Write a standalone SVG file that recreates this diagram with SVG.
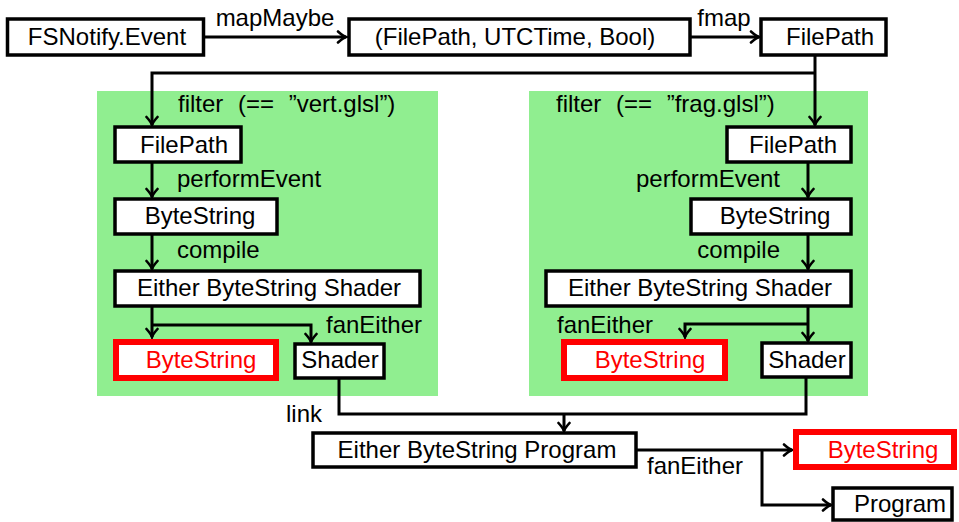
<svg xmlns="http://www.w3.org/2000/svg" width="959" height="522" viewBox="0 0 959 522">
<defs>
<marker id="arr" viewBox="-10 -7 12 14" refX="0" refY="0" markerWidth="12" markerHeight="14" markerUnits="userSpaceOnUse" orient="auto">
<path d="M-8,-5.5 Q-3,-1 0,0 Q-3,1 -8,5.5" fill="none" stroke="#000" stroke-width="2.6" stroke-linecap="round"/>
</marker>
<style>
text{font-family:"Liberation Sans",Arial,sans-serif;font-size:24px;fill:#000}
.c{text-anchor:middle}
.e{text-anchor:end}
.red{fill:#ff0000}
.flt{word-spacing:8px}
.box{fill:#fff;stroke:#000;stroke-width:3.5}
.rbox{fill:#fff;stroke:#ff0000;stroke-width:6}
.grp{fill:#90ee90}
.con{fill:none;stroke:#000;stroke-width:3;marker-end:url(#arr)}
.ln{fill:none;stroke:#000;stroke-width:3}
</style>
</defs>
<rect width="959" height="522" fill="#fff"/>
<g id="groups">
<rect class="grp" x="97" y="91" width="341" height="305"/>
<rect class="grp" x="529" y="91" width="339" height="305"/>
</g>
<g id="connectors">
<path class="con" d="M204,37 H346"/>
<path class="con" d="M691,37 H759"/>
<path class="con" d="M815,55 V125"/>
<path class="con" d="M815,73 H152 V125"/>
<path class="con" d="M152,162 V197"/>
<path class="con" d="M152,234 V269"/>
<path class="con" d="M152,306 V337"/>
<path class="con" d="M152,325 H311 V342"/>
<path class="con" d="M808,162 V197"/>
<path class="con" d="M808,234 V269"/>
<path class="con" d="M808,306 V341"/>
<path class="con" d="M808,324 H685 V337"/>
<path class="ln" d="M339,378 V414 H806 V377"/>
<path class="con" d="M564,414 V431"/>
<path class="con" d="M636,450 H792"/>
<path class="con" d="M762,450 V505 H831"/>
</g>
<g id="labels">
<text x="275" y="26" class="c">mapMaybe</text>
<text x="724" y="26" class="c">fmap</text>
<text x="178" y="112" class="flt">filter (== ”vert.glsl”)</text>
<text x="556" y="112" class="flt">filter (== ”frag.glsl”)</text>
<text x="177" y="187">performEvent</text>
<text x="177" y="258">compile</text>
<text x="326" y="333">fanEither</text>
<text x="780" y="187" class="e">performEvent</text>
<text x="780" y="258" class="e">compile</text>
<text x="557" y="333">fanEither</text>
<text x="286" y="422">link</text>
<text x="647" y="474">fanEither</text>
</g>
<g id="n-event"><rect class="box" x="7.5" y="19" width="196" height="36"/><text x="107" y="45" class="c">FSNotify.Event</text></g>
<g id="n-tuple"><rect class="box" x="349" y="19" width="341" height="36"/><text x="515" y="45" class="c">(FilePath, UTCTime, Bool)</text></g>
<g id="n-filepath"><rect class="box" x="761" y="19" width="125" height="36"/><text x="830" y="45" class="c">FilePath</text></g>
<g id="n-vfilepath"><rect class="box" x="115" y="127" width="126" height="35"/><text x="184" y="153" class="c">FilePath</text></g>
<g id="n-vbytes"><rect class="box" x="115" y="199" width="162" height="35"/><text x="200" y="224" class="c">ByteString</text></g>
<g id="n-vcomp"><rect class="box" x="115" y="271" width="305" height="35"/><text x="269" y="296" class="c">Either ByteString Shader</text></g>
<g id="n-verr"><rect class="rbox" x="116" y="342" width="160" height="36"/><text x="201" y="368" class="c red">ByteString</text></g>
<g id="n-vshader"><rect class="box" x="295" y="344" width="89" height="34"/><text x="340" y="368" class="c">Shader</text></g>
<g id="n-ffilepath"><rect class="box" x="727" y="127" width="124" height="35"/><text x="793" y="153" class="c">FilePath</text></g>
<g id="n-fbytes"><rect class="box" x="691" y="199" width="160" height="35"/><text x="775" y="224" class="c">ByteString</text></g>
<g id="n-fcomp"><rect class="box" x="546" y="271" width="305" height="35"/><text x="700" y="296" class="c">Either ByteString Shader</text></g>
<g id="n-ferr"><rect class="rbox" x="564" y="342" width="161" height="36"/><text x="650" y="368" class="c red">ByteString</text></g>
<g id="n-fshader"><rect class="box" x="762" y="343" width="89" height="34"/><text x="807" y="368" class="c">Shader</text></g>
<g id="n-prog"><rect class="box" x="313" y="433" width="323" height="34"/><text x="477" y="458" class="c">Either ByteString Program</text></g>
<g id="n-perr"><rect class="rbox" x="796" y="432" width="158" height="35"/><text x="883" y="458" class="c red">ByteString</text></g>
<g id="n-program"><rect class="box" x="833" y="488" width="119" height="32"/><text x="900" y="512" class="c">Program</text></g>
</svg>
